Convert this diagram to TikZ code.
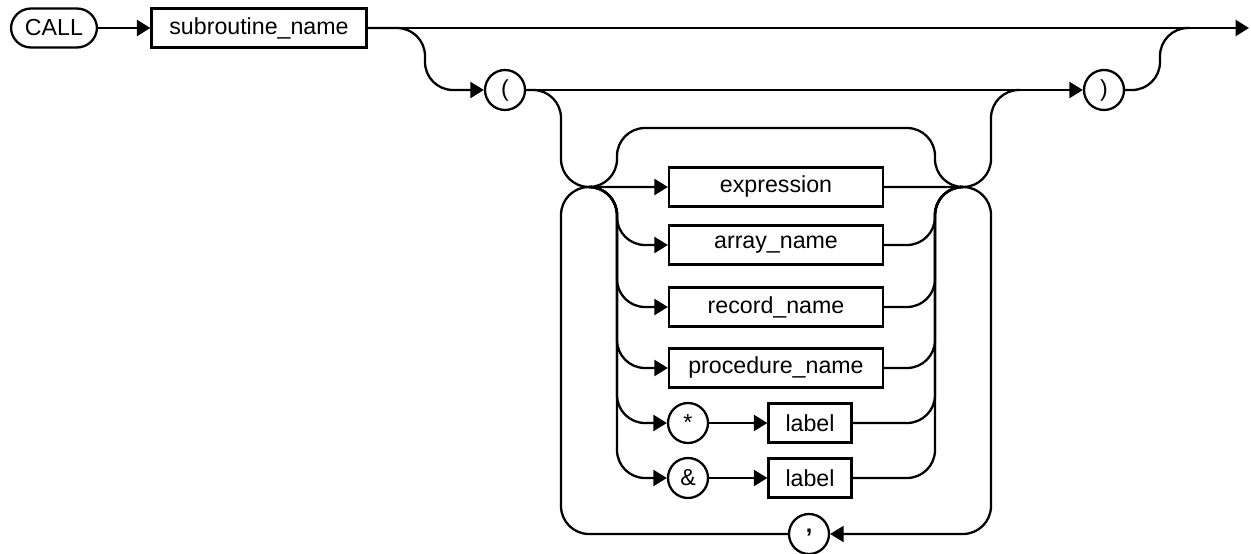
\documentclass[tikz,border=0pt]{standalone}
\usepackage{fontspec}
\setmainfont{Liberation Sans}
\usetikzlibrary{positioning,arrows.meta}
\tikzset{arista/.style={line width=1.3pt, rounded corners=0.56cm},
  flecha/.style={arista, -{Triangle[length=0.27cm,width=0.32cm]}},
  caja/.style={draw, line width=1.3pt, minimum height=0.78cm, inner sep=0pt},
  signo/.style={draw, circle, line width=1.3pt, minimum size=0.8cm, inner sep=0pt}}

\begin{document}
\begin{tikzpicture}[x=0.02cm, y=-0.02cm, every node/.style={font=\fontsize{13.2}{15}\selectfont}]
            \useasboundingbox (0,0) rectangle (1251,554);
            \node[caja, rounded corners=0.4cm, minimum width=1.72cm] (call) at (54,28) {CALL};
            \node[caja, minimum width=4.3cm] (sub) at (259,28) {subroutine\_name};
            \node[signo] (abre) at (505,90) {(};
            \node[signo] (cierra) at (1104,90) {)};
            \node[caja, minimum width=4.28cm] (expr) at (776,187) {expression};
            \node[caja, minimum width=4.28cm] (arr) at (776,245) {array\_name};
            \node[caja, minimum width=4.28cm] (rec) at (776,307) {record\_name};
            \node[caja, minimum width=4.28cm] (proc) at (776,368) {procedure\_name};
            \node[signo] (ast) at (688,423) {\raisebox{-0.45ex}{*}};
            \node[caja, minimum width=1.66cm] (lab1) at (810,423) {label};
            \node[signo] (amp) at (688,478) {\&};
            \node[caja, minimum width=1.66cm] (lab2) at (810,478) {label};
            \node[signo] (coma) at (809,534) {\raisebox{0.6ex}{\bfseries ,}};
            \coordinate (jl) at (589,187);
            \coordinate (jr) at (963,187);
            \coordinate (fin) at (1249,28);

            \draw[flecha] (call) -- (sub);
            \draw[flecha] (sub) -- (fin);
            \draw[flecha] (sub.east) -- (425,28) -- (425,90) -- (abre);
            \draw[flecha] (abre) -- (cierra);
            \draw[arista] (cierra) -- (1160,90) -- (1160,28) -- (1190,28);
            % lista de argumentos
            \draw[flecha] (abre) -- (561,90) -- (561,187) -- (expr);
            \draw[arista] (expr) -- (991,187) -- (991,90) -- (1020,90);
            \draw[arista] (jl) -- (617,187) -- (617,128) -- (935,128) -- (935,187) -- (jr);
            \foreach \n in {arr,rec,proc,ast,amp}
                \draw[flecha] (jl) -- (617,187) |- (\n);
            \foreach \n in {arr,rec,proc,lab1,lab2}
                \draw[arista] (\n) -| (935,187) -- (jr);
            \draw[flecha] (ast) -- (lab1);
            \draw[flecha] (amp) -- (lab2);
            % repeticion con coma
            \draw[flecha] (jr) -- (991,187) |- (coma);
            \draw[arista] (coma) -| (561,187) -- (jl);
        \end{tikzpicture}
\end{document}
